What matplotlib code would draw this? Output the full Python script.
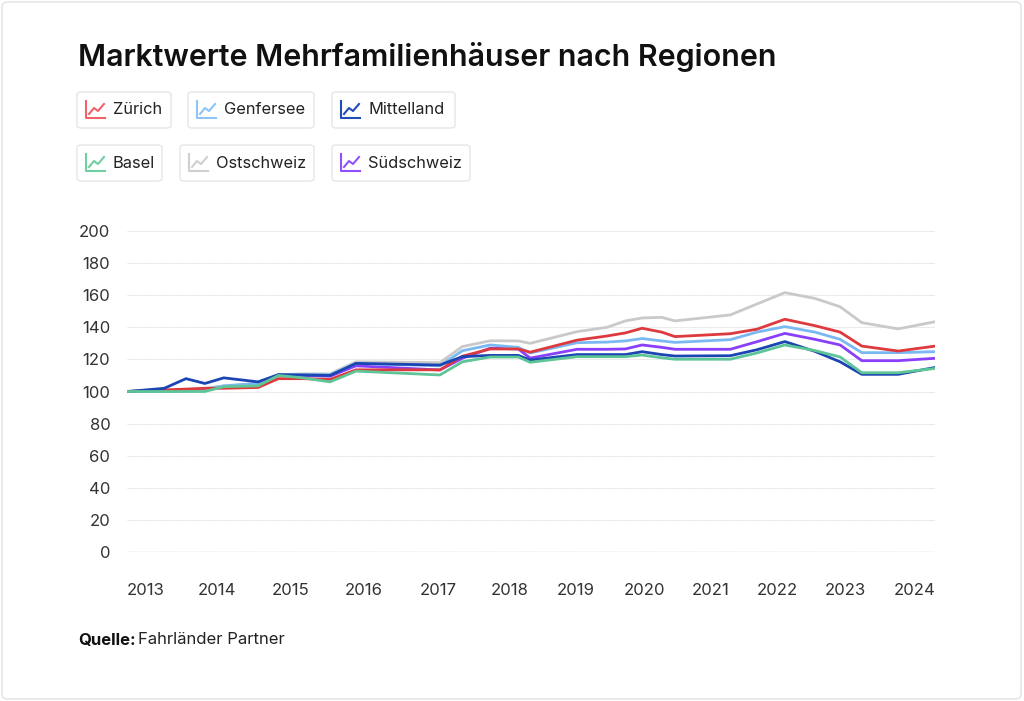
import matplotlib
matplotlib.use("Agg")
import matplotlib.pyplot as plt
from matplotlib.patches import FancyBboxPatch
from matplotlib.lines import Line2D

plt.rcParams["font.family"] = ["Inter", "DejaVu Sans"]

# --- data ---
time = [2012.74, 2013.01, 2013.27, 2013.58, 2013.85, 2014.12, 2014.61, 2014.90, 2015.25,
        2015.64, 2016.01, 2017.21, 2017.53, 2017.93, 2018.33, 2018.50, 2019.17, 2019.60,
        2019.86, 2020.10, 2020.38, 2020.57, 2021.36, 2021.74, 2022.14, 2022.57, 2022.93,
        2023.24, 2023.76, 2024.29]

zuerich = [100, 100.5, 101, 101.5, 102, 102, 102.5, 108, 108, 107.5, 113.5, 113.5, 122, 126.5,
           126.5, 124.5, 132, 134.6, 136.5, 139.4, 137, 134.2, 136, 138.8, 145, 141, 137, 128.3,
           125.2, 128.3]
genfersee = [100, 100, 100, 100.5, 101, 103.5, 105, 110.5, 110.5, 110.5, 117.5, 116, 125.4, 129,
             127.5, 124, 130.4, 130.8, 131.5, 133, 131.5, 130.6, 132.3, 137, 140.4, 137, 132.5,
             124.2, 124.2, 124.8]
mittelland = [100, 101, 102, 108, 105, 108.5, 106, 110.5, 110.3, 110, 117.5, 116.5, 121.7, 122.5,
              122.5, 119.6, 123, 123, 123, 124.8, 123, 122.1, 122.3, 126, 131.1, 125, 118.5,
              110.7, 110.7, 115]
basel = [100, 100, 100, 100, 100, 103, 103.5, 110, 108.5, 106, 112.7, 110.3, 118.5, 121.5, 121.5,
         118.2, 121.7, 121.7, 121.7, 122.7, 121, 120.1, 120.1, 124, 129, 125.5, 121.5, 111.7,
         111.7, 114.4]
ostschweiz = [100, 100, 100, 101, 102, 103.5, 105, 110.5, 111, 111, 118.5, 118, 128, 131.6, 131.5,
              130, 137.3, 140, 144, 145.8, 146.2, 144, 147.7, 154.5, 161.6, 158, 152.8, 142.9,
              139, 143.5]
suedschweiz = [100, 100, 100, 100.5, 101, 103, 104.5, 110, 110, 109.5, 116, 113.4, 120.7, 127,
               126.5, 120.8, 126.3, 126.3, 126.5, 129, 127.5, 126.3, 126.3, 131, 136.2, 132.5,
               129, 119.2, 119.2, 120.7]

year_labels = ["2013", "2014", "2015", "2016", "2017", "2018", "2019", "2020", "2021", "2022",
               "2023", "2024"]
year_ticks = [2013.00, 2014.03, 2015.08, 2016.12, 2017.18, 2018.20, 2019.15, 2020.13, 2021.08,
              2022.04, 2023.01, 2024.00]

names = ["Zürich", "Genfersee", "Mittelland", "Basel", "Ostschweiz", "Südschweiz"]
series = [zuerich, genfersee, mittelland, basel, ostschweiz, suedschweiz]
colors = ["#de3a3e", "#7ab8f2", "#1a45b3", "#5dc596", "#c9c9c9", "#8a3ffa"]
icon_colors = ["#f2626a", "#8cc4f7", "#1f4cb8", "#6fcfa0", "#cfcfcf", "#9150fb"]

W, H = 1024, 701
fig = plt.figure(figsize=(W / 100, H / 100), dpi=100)


def fx(x):
    return x / W


def fy(y):
    return 1 - y / H


# outer frame
fig.patches.append(FancyBboxPatch((fx(2), fy(699)), fx(1019), 697 / H,
                                  boxstyle="round,pad=0,rounding_size=0.006",
                                  transform=fig.transFigure, fc="none", ec="#e2e2e2", lw=1))

fig.text(fx(78), fy(57), "Marktwerte Mehrfamilienhäuser nach Regionen", fontsize=21.9,
         fontweight="semibold", color="#111111", va="center", ha="left")

# legend boxes (left, right, center y)
boxes = [(77, 171, 110), (188, 314, 110), (332, 455, 110),
         (77, 162, 163), (180, 314, 163), (332, 470, 163)]
for (x0, x1, yc), name, c in zip(boxes, names, icon_colors):
    fig.patches.append(FancyBboxPatch((fx(x0), fy(yc + 18)), fx(x1 - x0), 36 / H,
                                      boxstyle="round,pad=0,rounding_size=0.004",
                                      transform=fig.transFigure, fc="none",
                                      ec="#e6e6e6", lw=1))
    ix, iy = x0 + 9, yc - 9
    fig.lines.append(Line2D([fx(ix), fx(ix), fx(ix + 19)], [fy(iy), fy(iy + 17), fy(iy + 17)],
                            transform=fig.transFigure, color=c, lw=1.5))
    fig.lines.append(Line2D([fx(ix + 3), fx(ix + 8), fx(ix + 12), fx(ix + 18)],
                            [fy(iy + 13), fy(iy + 7), fy(iy + 10), fy(iy + 3)],
                            transform=fig.transFigure, color=c, lw=1.5))
    fig.text(fx(x0 + 36), fy(yc), name, fontsize=11.8, color="#222222", va="center", ha="left")

# chart
ax = fig.add_axes([fx(127), fy(552), fx(935 - 127), (552 - 231) / H])
order = [5, 4, 1, 0, 2, 3]
for i in order:
    ax.plot(time, series[i], color=colors[i], lw=2.0, solid_joinstyle="round", zorder=3)

ax.set_xlim(2012.737, 2024.286)
ax.set_ylim(0, 200)
ax.set_yticks(range(0, 201, 20))
ax.set_xticks(year_ticks)
ax.set_xticklabels(year_labels)
for s in ax.spines.values():
    s.set_visible(False)
ax.tick_params(axis="both", length=0, labelsize=12, labelcolor="#333333")
ax.tick_params(axis="y", pad=12)
ax.tick_params(axis="x", pad=22)
for v in range(20, 201, 20):
    ax.axhline(v, color="#e0e0e0", lw=0.8, ls=(0, (1, 0.6)), zorder=1)
ax.axhline(0, color="#7a7a7a", lw=0.9, ls=(0, (1, 1)), zorder=1)

fig.text(fx(78), fy(640), "Quelle:", fontsize=12, fontweight="bold", color="#111111",
         va="center", ha="left")
fig.text(fx(138), fy(640), "Fahrländer Partner", fontsize=12, color="#222222",
         va="center", ha="left")

fig.savefig("out.png", dpi=100, facecolor="white")
